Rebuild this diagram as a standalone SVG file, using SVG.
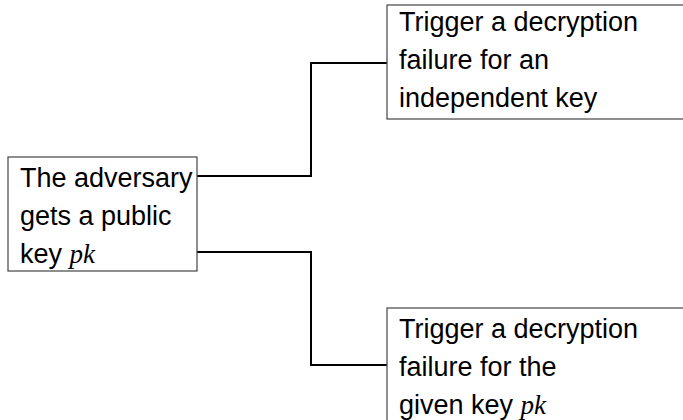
<svg xmlns="http://www.w3.org/2000/svg" width="683" height="420" viewBox="0 0 683 420">
<style>
.box{fill:#fff;stroke:#444;stroke-width:1.2}
.t{font-family:"Liberation Sans",Arial,sans-serif;font-size:27px;fill:#000}
.m{font-family:"Liberation Serif","Times New Roman",serif;font-style:italic}
.c{fill:none;stroke:#000;stroke-width:2}
</style>
<rect width="683" height="420" fill="#fff"/>
<g id="connectors">
<polyline class="c" points="197,176 311,176 311,63 387,63"/>
<polyline class="c" points="197,252 311,252 311,365 387,365"/>
</g>
<g id="root">
<rect class="box" x="8" y="157" width="189" height="114"/>
<text class="t" x="20" y="187">The adversary</text>
<text class="t" x="20" y="225">gets a public</text>
<text class="t" x="20" y="263">key <tspan class="m">pk</tspan></text>
</g>
<g id="independent">
<rect class="box" x="387" y="5" width="310" height="114"/>
<text class="t" x="399" y="31">Trigger a decryption</text>
<text class="t" x="399" y="69">failure for an</text>
<text class="t" x="399" y="107">independent key</text>
</g>
<g id="given">
<rect class="box" x="387" y="308" width="310" height="130"/>
<text class="t" x="399" y="338">Trigger a decryption</text>
<text class="t" x="399" y="376">failure for the</text>
<text class="t" x="399" y="414">given key <tspan class="m">pk</tspan></text>
</g>
</svg>
